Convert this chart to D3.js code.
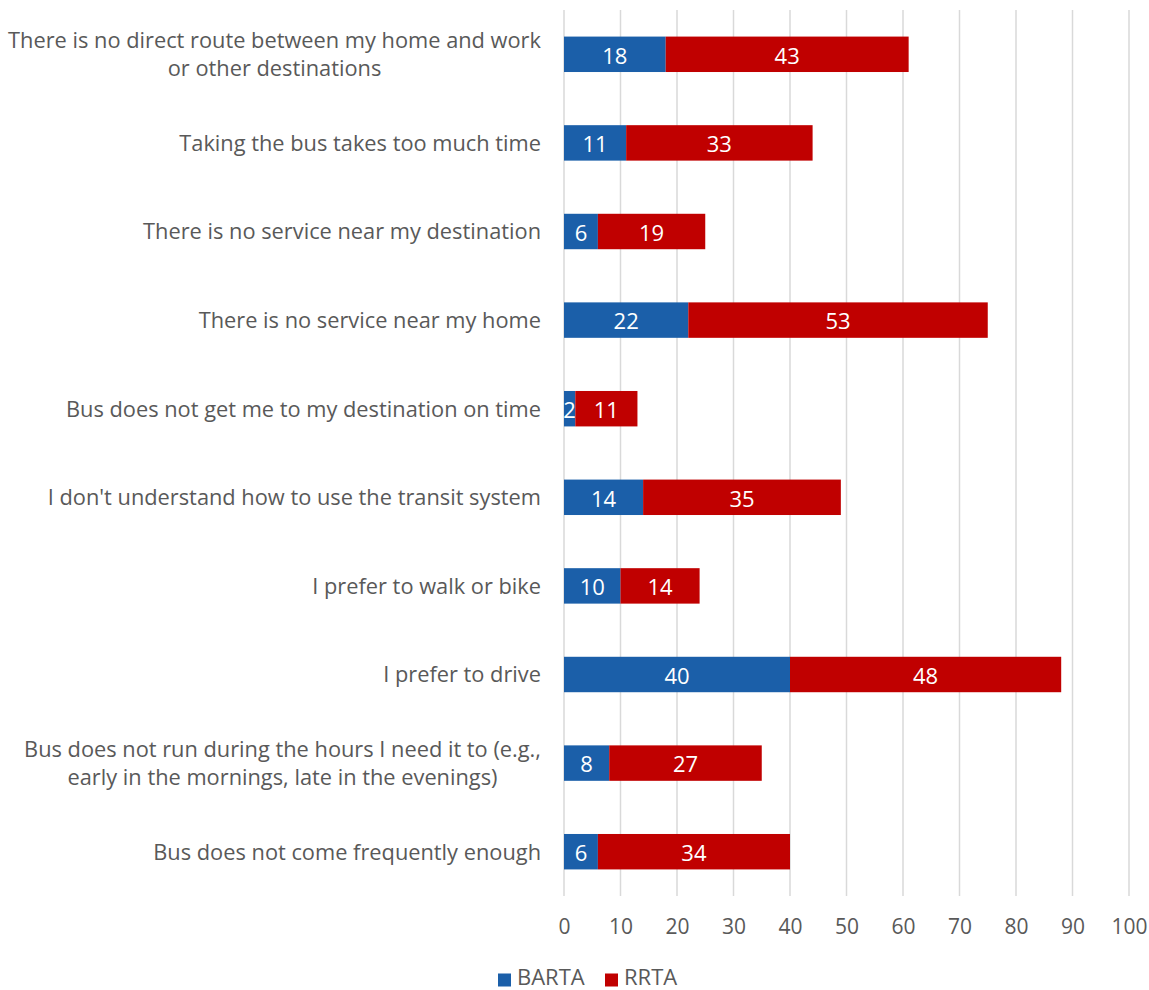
<!DOCTYPE html>
<html>
<head>
<meta charset="utf-8">
<script src="https://cdn.jsdelivr.net/npm/d3@7"></script>
<style>
  html, body { margin: 0; padding: 0; background: #fff; }
  svg { display: block; }
  text { font-family: "Open Sans", Roboto, sans-serif; }
</style>
</head>
<body>
<svg id="chart" width="1149" height="990"></svg>
<script>
// Reasons for not using the bus, by agency
const categories = [
  ["There is no direct route between my home and work", "or other destinations"],
  ["Taking the bus takes too much time"],
  ["There is no service near my destination"],
  ["There is no service near my home"],
  ["Bus does not get me to my destination on time"],
  ["I don't understand how to use the transit system"],
  ["I prefer to walk or bike"],
  ["I prefer to drive"],
  ["Bus does not run during the hours I need it to (e.g.,", "early in the mornings, late in the evenings)"],
  ["Bus does not come frequently enough"]
];
const barta = [18, 11, 6, 22, 2, 14, 10, 40, 8, 6];
const rrta  = [43, 33, 19, 53, 11, 35, 14, 48, 27, 34];
const seriesNames = ["BARTA", "RRTA"];
const seriesColors = ["#1B5FA9", "#C00000"];
const xTicks = [0, 10, 20, 30, 40, 50, 60, 70, 80, 90, 100];

const svg = d3.select("#chart");
const plotTop = 10, plotBottom = 896;

const x = d3.scaleLinear().domain([0, 100]).range([564, 1129]);
const y = d3.scaleBand()
  .domain(d3.range(categories.length))
  .range([plotTop, plotBottom])
  .paddingInner(0.6).paddingOuter(0.3);

// vertical gridlines
svg.append("g").selectAll("line").data(xTicks).join("line")
  .attr("x1", d => x(d)).attr("x2", d => x(d))
  .attr("y1", plotTop).attr("y2", plotBottom)
  .attr("stroke", "#D9D9D9").attr("stroke-width", 1.5);

// x axis tick labels
const xAxis = d3.axisBottom(x).tickValues(xTicks).tickSize(0).tickPadding(0);
const gx = svg.append("g")
  .attr("transform", `translate(0, ${plotBottom})`)
  .call(xAxis);
gx.select(".domain").remove();
gx.selectAll("text")
  .attr("dy", null).attr("y", 38)
  .attr("fill", "#595959").attr("font-size", 21)
  .attr("font-family", "Roboto, sans-serif");

// stacked data
const stacked = d3.stack().keys([0, 1])
  .value((d, k) => (k === 0 ? barta : rrta)[d])(d3.range(categories.length));

const layers = svg.append("g").selectAll("g").data(stacked).join("g")
  .attr("fill", (d, i) => seriesColors[i]);

layers.selectAll("rect").data(d => d).join("rect")
  .attr("x", d => x(d[0]))
  .attr("width", d => x(d[1]) - x(d[0]))
  .attr("y", d => y(d.data))
  .attr("height", y.bandwidth());

// value labels inside segments
layers.selectAll("text").data(d => d).join("text")
  .attr("x", d => (x(d[0]) + x(d[1])) / 2)
  .attr("y", d => y(d.data) + y.bandwidth() / 2)
  .attr("dy", "0.42em")
  .attr("text-anchor", "middle")
  .attr("fill", "#fff").attr("font-size", 22)
  .attr("font-family", "Roboto, sans-serif")
  .text(d => d[1] - d[0]);

// category labels, right aligned against the plot, lines centred in the block
const cat = svg.append("g").selectAll("text").data(categories).join("text")
  .attr("text-anchor", "middle")
  .attr("fill", "#595959").attr("font-size", 21.8);
cat.each(function (lines, i) {
  const t = d3.select(this);
  const cy = y(i) + y.bandwidth() / 2;
  const lh = 27.5;
  const y0 = cy - (lines.length - 1) * lh / 2;
  lines.forEach((ln, j) => {
    t.append("tspan").attr("y", y0 + j * lh).attr("dy", "0.36em").text(ln);
  });
  const maxW = d3.max(t.selectAll("tspan").nodes(), n => n.getComputedTextLength());
  t.selectAll("tspan").attr("x", 541 - maxW / 2);
});

// legend
const legend = svg.append("g").attr("transform", "translate(498, 980)");
const items = [
  { name: seriesNames[0], color: seriesColors[0], dx: 0 },
  { name: seriesNames[1], color: seriesColors[1], dx: 107 }
];
const li = legend.selectAll("g").data(items).join("g")
  .attr("transform", d => `translate(${d.dx},0)`);
li.append("rect").attr("x", 0).attr("y", -6.5).attr("width", 13).attr("height", 13)
  .attr("fill", d => d.color);
li.append("text").attr("x", 19).attr("y", 4.5)
  .attr("fill", "#595959").attr("font-size", 22)
  .attr("font-family", "Roboto, sans-serif").text(d => d.name);
</script>
</body>
</html>
